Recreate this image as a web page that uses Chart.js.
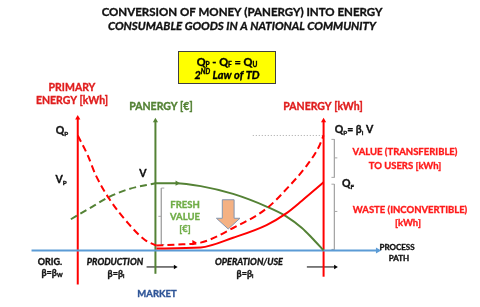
<!DOCTYPE html>
<html>
<head>
<meta charset="utf-8">
<script src="https://cdn.jsdelivr.net/npm/chart.js@4"></script>
<style>
  body { margin: 0; background: #fff; }
  #wrap { width: 480px; height: 307px; }
</style>
</head>
<body>
<div id="wrap"><canvas id="chart"></canvas></div>
<script>
// x = position along the process path, y = level above the path (0 = path)
// primary energy spent in production (dashed red, falling)
const primaryX = [75, 85, 93, 107, 127, 143, 155];
const primaryY = [118, 98, 78, 53, 27, 11, 5];
// panergy in kWh during use (dashed red, rising to Qp)
const panergyX = [155, 175, 200, 233, 267, 290, 307, 320, 325];
const panergyY = [5, 6, 8, 23, 43, 66, 86, 106, 118];
// waste, inconvertible (solid red, rising to Qf)
const wasteX = [155, 200, 233, 267, 287, 303, 317, 325];
const wasteY = [2, 3, 13, 26, 38, 51, 63, 70];
// panergy in money before market (dashed green)
const moneyInX = [68, 90, 107, 127, 154];
const moneyInY = [32, 45, 55, 63, 69];
// fresh value in money after market (solid green)
const moneyOutX = [154, 175, 200, 233, 267, 287, 303, 313, 325];
const moneyOutY = [69, 69, 66, 58, 45, 35, 23, 13, 0];

// axis stations
const origX = 75, marketX = 154, endX = 325;

//turn two arrays into chart points
function pts(xs, ys) {
  return xs.map((x, i) => ({ x: x, y: ys[i] }));
}

const RED = "#ff0000";
const GREEN = "#548235";
const BLUE = "#5b9bd5";
const GRAY = "#a6a6a6";

//a straight line with an arrow head on the last point
function arrowLine(xs, ys, color, width, rot, r) {
  return {
    data: pts(xs, ys),
    borderColor: color,
    backgroundColor: color,
    borderWidth: width,
    pointStyle: "triangle",
    pointRadius: xs.map((x, i) => (i == xs.length - 1 ? r : 0)),
    pointRotation: rot,
    pointBorderWidth: 0,
  };
}

function curve(xs, ys, color, dash) {
  return {
    data: pts(xs, ys),
    borderColor: color,
    borderWidth: 2,
    borderDash: dash,
    pointRadius: 0,
    cubicInterpolationMode: "monotone",
  };
}

function plain(xs, ys, color, width, dash) {
  return {
    data: pts(xs, ys),
    borderColor: color,
    borderWidth: width,
    borderDash: dash || [],
    pointRadius: 0,
  };
}

function head(x, y, color, rot, r) {
  return {
    data: [{ x: x, y: y }],
    showLine: false,
    pointStyle: "triangle",
    pointRadius: r,
    pointRotation: rot,
    backgroundColor: color,
    borderColor: color,
    pointBorderWidth: 0,
  };
}

const datasets = [
  curve(primaryX, primaryY, RED, [7, 4]),
  curve(panergyX, panergyY, RED, [7, 4]),
  curve(wasteX, wasteY, RED, []),
  curve(moneyInX, moneyInY, GREEN, [7, 4]),
  curve(moneyOutX, moneyOutY, GREEN, []),
  head(176, 69, GREEN, 90, 3),
  head(193, 8, RED, 90, 3),
  // axes
  arrowLine([28, 380], [0, 0], BLUE, 2, 90, 3.5),
  arrowLine([origX, origX], [-35, 136], RED, 2, 0, 3),
  arrowLine([marketX, marketX], [-24, 133], GREEN, 2, 0, 3),
  arrowLine([endX, endX], [-27, 133], RED, 2, 0, 3),
  // small direction arrows under the path
  arrowLine([145, 174], [-17, -17], "#000", 1, 90, 2.5),
  arrowLine([308, 337], [-17, -17], "#000", 1, 90, 2.5),
  // level guide at Qp
  plain([253, 325], [118, 118], GRAY, 1, [1, 2]),
  // brackets
  plain([333, 336, 336, 333], [114, 114, 75, 75], GRAY, 1),
  plain([336, 339], [95, 95], GRAY, 1),
  plain([333, 336, 336, 333], [68, 68, 1, 1], GRAY, 1),
  plain([336, 339], [40, 40], GRAY, 1),
  plain([163, 160, 160, 163], [64, 64, 6, 6], GRAY, 1),
  plain([157, 160], [35, 35], GRAY, 1),
];

const FONT = "Lato, 'Open Sans', sans-serif";

//draw text with sub and superscript pieces, centred on cx
function rich(ctx, parts, cx, y, size, style, color) {
  let w = 0;
  parts.forEach((p) => {
    let s = p[1] ? size * 0.6 : size;
    ctx.font = `${style} ${s}px ${FONT}`;
    w += ctx.measureText(p[0]).width;
  });
  let x = cx - w / 2;
  ctx.fillStyle = color;
  ctx.strokeStyle = color;
  ctx.lineWidth = 0.35;
  ctx.textAlign = "left";
  ctx.textBaseline = "middle";
  parts.forEach((p) => {
    let s = p[1] ? size * 0.6 : size;
    let dy = p[1] == "sub" ? size * 0.28 : p[1] == "sup" ? -size * 0.3 : 0;
    ctx.font = `${style} ${s}px ${FONT}`;
    ctx.fillText(p[0], x, y + dy);
    ctx.strokeText(p[0], x, y + dy);
    x += ctx.measureText(p[0]).width;
  });
}

function txt(ctx, t, cx, y, size, style, color) {
  rich(ctx, [[t]], cx, y, size, style, color);
}

const labels = {
  id: "labels",
  beforeDatasetsDraw(chart) {
    const ctx = chart.ctx;
    ctx.save();
    // formula box
    ctx.fillStyle = "#ffff00";
    ctx.fillRect(178.5, 51.5, 97, 32);
    ctx.strokeStyle = "#404040";
    ctx.lineWidth = 1;
    ctx.strokeRect(178.5, 51.5, 97, 32);
    ctx.restore();
  },
  afterDatasetsDraw(chart) {
    const ctx = chart.ctx;
    const sx = chart.scales.x, sy = chart.scales.y;
    ctx.save();

    // orange "value lost" arrow
    let ax = (v) => sx.getPixelForValue(v), ay = (v) => sy.getPixelForValue(v);
    ctx.beginPath();
    ctx.moveTo(ax(222), ay(52));
    ctx.lineTo(ax(234), ay(52));
    ctx.lineTo(ax(234), ay(33));
    ctx.lineTo(ax(240), ay(33));
    ctx.lineTo(ax(228), ay(22));
    ctx.lineTo(ax(216), ay(33));
    ctx.lineTo(ax(222), ay(33));
    ctx.closePath();
    ctx.fillStyle = "#f4b183";
    ctx.fill();
    ctx.strokeStyle = "#8496b0";
    ctx.lineWidth = 1;
    ctx.stroke();

    const B = "bold", BI = "italic bold";
    txt(ctx, "CONVERSION OF MONEY (PANERGY) INTO ENERGY", 242, 12, 11.5, B, "#111");
    txt(ctx, "CONSUMABLE GOODS IN A NATIONAL COMMUNITY", 242, 26, 11.5, BI, "#111");
    rich(ctx, [["Q"], ["P", "sub"], [" - Q"], ["F", "sub"], [" = Q"], ["U", "sub"]], 227, 62, 11, B, "#000");
    rich(ctx, [["2"], ["ND", "sup"], [" Law of TD"]], 227, 75.5, 11, BI, "#000");

    txt(ctx, "PRIMARY", 72, 88, 10.5, B, "#e01e1e");
    txt(ctx, "ENERGY [kWh]", 72, 101, 10.5, B, "#e01e1e");
    txt(ctx, "PANERGY [€]", 161, 107, 10.5, B, GREEN);
    txt(ctx, "PANERGY [kWh]", 323, 107, 10.5, B, "#e01e1e");

    rich(ctx, [["Q"], ["P", "sub"]], 62, 131, 10.5, B, "#111");
    rich(ctx, [["V"], ["P", "sub"]], 61, 180, 10.5, B, "#111");
    txt(ctx, "V", 143, 174, 10.5, B, "#111");
    rich(ctx, [["Q"], ["P", "sub"], ["= β"], ["i", "sub"], [" V"]], 354, 130, 10.5, B, "#111");
    rich(ctx, [["Q"], ["F", "sub"]], 348, 184, 10.5, B, "#111");

    txt(ctx, "VALUE (TRANSFERIBLE)", 405, 152, 9.5, B, "#ff1a1a");
    txt(ctx, "TO USERS [kWh]", 405, 166, 9.5, B, "#ff1a1a");
    txt(ctx, "WASTE (INCONVERTIBLE)", 410, 210, 9.5, B, "#ff1a1a");
    txt(ctx, "[kWh]", 408, 223, 9.5, B, "#ff1a1a");

    txt(ctx, "FRESH", 185, 205, 9.5, B, "#70ad47");
    txt(ctx, "VALUE", 185, 217, 9.5, B, "#70ad47");
    txt(ctx, "[€]", 185, 229, 9.5, B, "#70ad47");

    txt(ctx, "PROCESS", 397, 247, 8, B, "#111");
    txt(ctx, "PATH", 399, 258, 8, B, "#111");

    txt(ctx, "ORIG.", 50, 262, 9, B, "#111");
    rich(ctx, [["β=β"], ["W", "sub"]], 52, 273, 9, B, "#111");
    txt(ctx, "PRODUCTION", 115, 262, 9, BI, "#111");
    rich(ctx, [["β=β"], ["i", "sub"]], 116, 274, 9, B, "#111");
    txt(ctx, "OPERATION/USE", 249, 262, 9, BI, "#111");
    rich(ctx, [["β=β"], ["i", "sub"]], 245, 274, 9, B, "#111");
    txt(ctx, "MARKET", 157, 294, 9.5, B, "#2f5597");
    ctx.restore();
  },
};

new Chart(document.getElementById("chart"), {
  type: "line",
  data: { datasets: datasets },
  options: {
    responsive: true,
    maintainAspectRatio: false,
    animation: false,
    layout: { padding: 0 },
    plugins: { legend: { display: false }, tooltip: { enabled: false } },
    scales: {
      x: { type: "linear", min: 0, max: 480, display: false },
      y: { type: "linear", min: -54, max: 253, display: false },
    },
  },
  plugins: [labels],
});
</script>
</body>
</html>
